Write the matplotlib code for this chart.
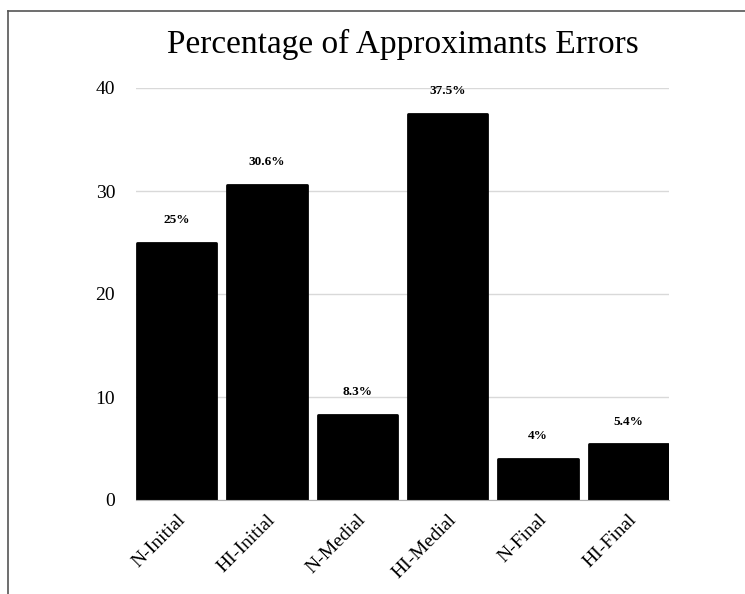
import matplotlib
matplotlib.use("Agg")
import matplotlib.pyplot as plt
from matplotlib.lines import Line2D

categorias = ["N-Initial", "HI-Initial", "N-Medial", "HI-Medial", "N-Final", "HI-Final"]
porcentajes = [25, 30.6, 8.3, 37.5, 4, 5.4]
etiquetas = ["25%", "30.6%", "8.3%", "37.5%", "4%", "5.4%"]
ticks_y = [0, 10, 20, 30, 40]

plt.rcParams["font.family"] = ["Liberation Serif", "DejaVu Serif"]

fig = plt.figure(figsize=(7.45, 5.94), dpi=100)
ax = fig.add_axes([136/745, 1-500/594, 533/745, 412/594])

x = range(len(categorias))
barras = ax.bar(x, porcentajes, width=0.88, color="black", edgecolor="black",
                linewidth=2, joinstyle="round", zorder=3)

for b, txt in zip(barras, etiquetas):
    ax.annotate(txt, (b.get_x() + b.get_width()/2, b.get_height()),
                xytext=(0, 12), textcoords="offset points",
                ha="center", va="bottom", fontsize=9.5, fontweight="bold")

ax.set_xlim(-0.45, len(categorias) - 0.55)
ax.set_ylim(0, 40)
ax.set_yticks(ticks_y)
ax.set_xticks(list(x))
ax.set_xticklabels(categorias, rotation=45, ha="right", va="top",
                   rotation_mode="anchor", fontsize=14)
ax.tick_params(axis="y", length=0, pad=15, labelsize=14)
ax.tick_params(axis="x", length=0, pad=8)
ax.grid(axis="y", color="#d9d9d9", linewidth=1, zorder=0)
for lado in ["top", "right", "left"]:
    ax.spines[lado].set_visible(False)
ax.spines["bottom"].set_color("#b0b0b0")
ax.spines["bottom"].set_zorder(4)

fig.text(402.5/745, 1-44/594, "Percentage of Approximants Errors",
         ha="center", va="center", fontsize=24)

# marco parcial arriba e izquierda
fig.add_artist(Line2D([8/745, 1], [1-11/594, 1-11/594], color="#555555", linewidth=1.2))
fig.add_artist(Line2D([8/745, 8/745], [0, 1-11/594], color="#555555", linewidth=1.2))

fig.savefig("out.png", dpi=100)
